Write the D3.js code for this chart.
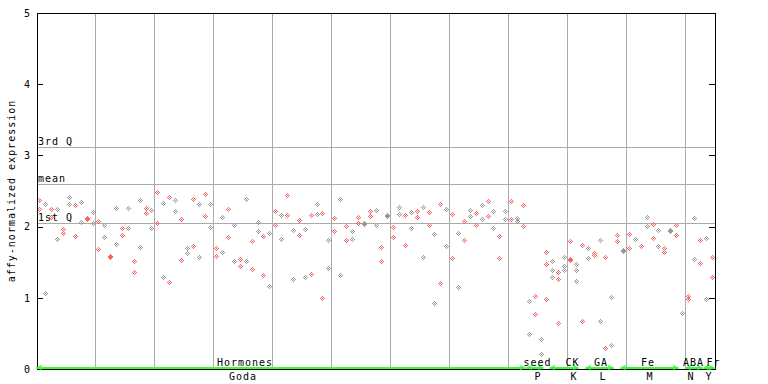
<!DOCTYPE html>
<html><head><meta charset="utf-8">
<script src="https://cdn.jsdelivr.net/npm/d3@7"></script>
<style>
body{margin:0;background:#fff}
svg{display:block}
text{font-family:"DejaVu Sans Mono",monospace;font-size:10px;fill:#000}
</style>
</head><body>
<svg id="c" width="768" height="384"></svg>
<script>
// ---- data ----
const yTicks = [0, 1, 2, 3, 4, 5];
const yLabel = "affy-normalized expression";
const refLabels = ["3rd Q", "mean", "1st Q"];
const refValues = [3.108, 2.592, 2.038];

const categories = ["Hormones", "seed", "CK", "GA", "Fe", "ABA", "Fr"];
const subLabels  = ["Goda", "P", "K", "L", "M", "N", "Y"];
const catStart   = [0, 83, 87, 93, 99, 110, 113];
const catEnd     = [82, 85, 91, 97, 108, 112, 114];
const catLabelAt = [34.78, 84.39, 90.32, 95.16, 103.13, 110.85, 114.24];
const subLabelAt = [34.44, 84.47, 90.58, 95.5, 103.47, 110.42, 113.47];

const sampleCount = 115;
const sampleValues = [
[2.38,2.25],[2.32,1.07],[2.25,2.14],[2.25,1.83],[1.97,1.91],
[2.42,2.32],[2.30,1.87],[2.34,2.07],[2.12,2.106],[2.21,2.05],
[2.08,1.69],[2.02,1.85],[1.59,1.57],[2.26,1.76],[1.98,1.88],
[2.26,1.98],[1.52,1.36],[2.37,1.71],[2.26,2.19],[2.24,1.98],
[2.48,2.05],[2.33,1.29],[2.41,1.22],[2.37,2.22],[2.10,1.53],
[1.70,1.63],[2.39,1.73],[2.32,1.57],[2.46,2.15],[2.32,2.00],
[1.70,1.59],[2.14,1.64],[2.25,1.85],[2.02,1.52],[1.54,1.45],
[2.39,1.52],[1.80,1.40],[2.07,1.94],[1.87,1.32],[1.91,1.16],
[2.22,2.02],[2.16,1.83],[2.45,2.16],[1.95,1.26],[2.09,1.88],
[1.97,1.29],[2.16,1.33],[2.32,2.18],[2.19,1.00],[1.81,1.42],
[2.12,1.94],[2.39,1.32],[2.01,1.81],[1.94,1.83],[2.14,2.05],
[2.05,2.036],[2.22,2.15],[2.24,2.02],[1.71,1.52],[2.16,2.146],
[2.00,1.85],[2.28,2.18],[2.16,1.74],[2.21,1.98],[2.22,2.14],
[2.28,1.58],[2.21,2.02],[1.90,0.92],[2.32,1.21],[2.25,1.73],
[2.18,1.56],[1.91,1.15],[2.08,1.81],[2.24,2.15],[2.19,2.02],
[2.31,2.11],[2.36,2.15],[2.22,1.98],[1.87,1.56],[2.22,2.11],
[2.36,2.11],[2.12,2.08],[2.31,2.01],[0.95,0.49],[1.02,0.77],
[0.42,0.21],[1.65,1.47,0.98],[1.52,1.39,1.29],[1.36,1.26,0.64],[1.57,1.45,1.39],
[1.80,1.54,1.526],[1.47,1.39,1.24],[1.74,0.67],[1.70,1.56],[1.63,1.60],
[1.81,0.67],[1.57,0.29],[1.01,0.34],[1.88,1.80],[1.67,1.656],
[1.90,1.70],[1.83],[1.73],[2.14,2.01],[2.04,1.84],
[1.95,1.73],[1.70,1.64],[1.95,1.936],[2.02,1.88],[0.78],
[1.02,0.99],[2.12,1.54],[1.81,1.49],[1.84,0.98],[1.57,1.29]
];

// ---- drawing ----
const svg = d3.select("#c");
const x = d3.scaleLinear().domain([0, sampleCount]).range([37, 715]);
const y = d3.scaleLinear().domain([0, 5]).range([369, 13]);
const px = v => Math.floor(v) + 0.5;

// vertical grid every 10 samples
svg.append("g").selectAll("line").data(d3.range(10, sampleCount, 10)).join("line")
  .attr("x1", d => px(x(d))).attr("x2", d => px(x(d)))
  .attr("y1", px(y(5))).attr("y2", px(y(0)))
  .attr("stroke", "#aaaaaa").attr("shape-rendering", "crispEdges");

// reference lines
svg.append("g").selectAll("line").data(refValues).join("line")
  .attr("x1", px(x(0))).attr("x2", px(x(sampleCount)))
  .attr("y1", d => px(y(d))).attr("y2", d => px(y(d)))
  .attr("stroke", "#aaaaaa").attr("shape-rendering", "crispEdges");
svg.append("g").selectAll("text").data(refValues).join("text")
  .attr("x", x(0) + 1).attr("y", d => px(y(d)) - 2.5)
  .attr("letter-spacing", "1px")
  .text((d, i) => refLabels[i]);

// points
const offs = [[0,-2],[-1,-1],[1,-1],[-2,0],[0,0],[2,0],[-1,1],[1,1],[0,2]];
const pts = [];
sampleValues.forEach((vals, i) => vals.forEach(v => pts.push({i, v})));
svg.append("g").selectAll("path").data(pts).join("path")
  .attr("d", d => {
    const cx = Math.floor(x(d.i + 0.5)), cy = Math.round(y(d.v));
    return offs.map(([dx, dy]) => `M${cx+dx},${cy+dy}h1v1h-1z`).join("");
  })
  .attr("fill", d => d.i % 2 === 0 ? "#ff6060" : "#999999")
  .attr("shape-rendering", "crispEdges");

// left axis
const gl = svg.append("g").attr("transform", "translate(37,0)")
  .call(d3.axisLeft(y).tickValues(yTicks).tickFormat(d3.format("d"))
        .tickSize(-6).tickSizeOuter(0).tickPadding(7));
gl.select(".domain").remove();
gl.attr("font-family", null).attr("font-size", null);
gl.selectAll("line").attr("stroke", "#000").attr("shape-rendering", "crispEdges");

// right axis ticks
const gr = svg.append("g").attr("transform", "translate(715,0)")
  .call(d3.axisRight(y).tickValues(yTicks.slice(1, -1)).tickFormat("")
        .tickSize(-6).tickSizeOuter(0));
gr.select(".domain").remove();
gr.selectAll("line").attr("stroke", "#000").attr("shape-rendering", "crispEdges");

// frame
svg.append("rect")
  .attr("x", px(x(0))).attr("y", px(y(5)))
  .attr("width", Math.floor(x(sampleCount)) - Math.floor(x(0)))
  .attr("height", Math.floor(y(0)) - Math.floor(y(5)))
  .attr("fill", "none").attr("stroke", "#000").attr("shape-rendering", "crispEdges");

// category arrows (drawn above the plot frame's bottom)
const green = "#33ff33";
const ga = svg.append("g").attr("stroke", green).attr("fill", "none");
categories.forEach((c, k) => {
  const x0 = Math.floor(x(catStart[k] + 0.5)) - 2;
  const x1 = Math.floor(x(catEnd[k] + 0.5)) + 2;
  const yy = Math.floor(y(0)) - 1;
  ga.append("line").attr("x1", x0).attr("x2", x1).attr("y1", yy).attr("y2", yy)
    .attr("stroke-width", 2).attr("shape-rendering", "crispEdges");
  ga.append("path").attr("d", `M${x0+5},${yy-2.5}L${x0},${yy}L${x0+5},${yy+1}`)
    .attr("stroke-width", 1.3);
  ga.append("path").attr("d", `M${x1-5},${yy-2.5}L${x1},${yy}L${x1-5},${yy+1}`)
    .attr("stroke-width", 1.3);
});

// category labels
svg.append("g").selectAll("text").data(categories).join("text")
  .attr("x", (d, k) => x(catLabelAt[k] + 0.5)).attr("y", 366)
  .attr("text-anchor", "middle").attr("letter-spacing", "1px").text(d => d);
svg.append("g").selectAll("text").data(subLabels).join("text")
  .attr("x", (d, k) => x(subLabelAt[k] + 0.5)).attr("y", 379.5)
  .attr("text-anchor", "middle").attr("letter-spacing", "1px").text(d => d);

// y label
svg.append("text")
  .attr("transform", `translate(15,${(y(0)+y(5))/2}) rotate(-90)`)
  .attr("text-anchor", "middle").attr("letter-spacing", "1px").text(yLabel);
</script>
</body></html>
